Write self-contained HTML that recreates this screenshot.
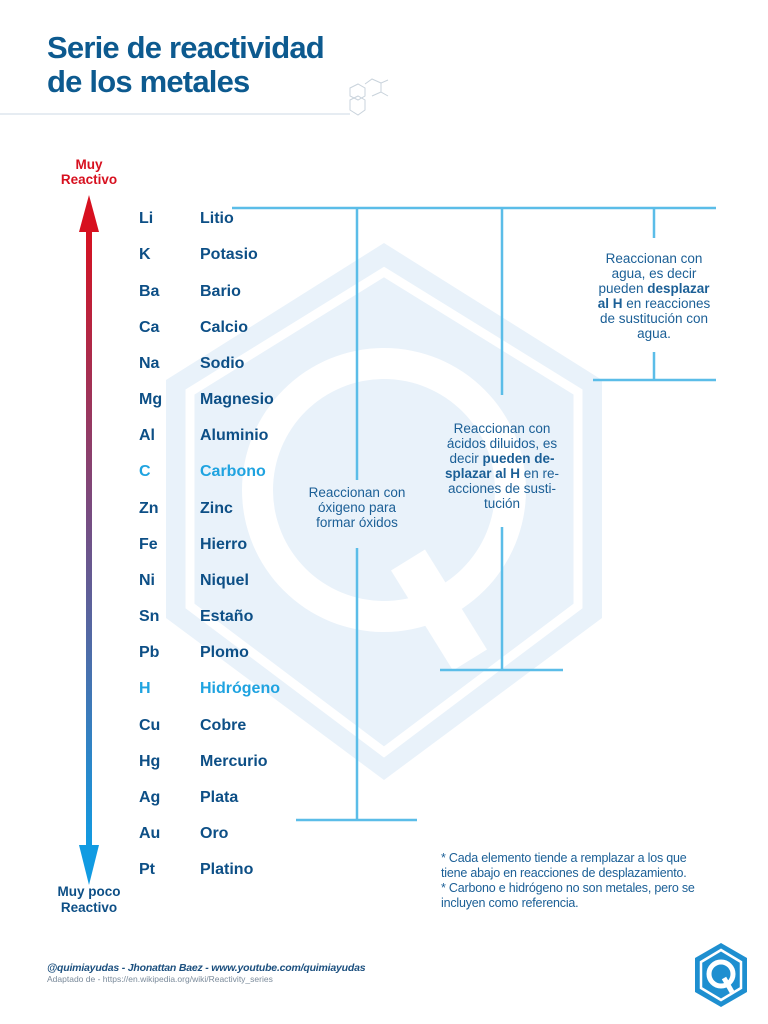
<!DOCTYPE html>
<html><head><meta charset="utf-8"><style>
body{margin:0;width:768px;height:1024px;background:#fff;position:relative;overflow:hidden;font-family:"Liberation Sans Narrow","Liberation Sans",sans-serif}
.t{position:absolute;white-space:nowrap}
h1{position:absolute;left:47px;top:31px;margin:0;font:bold 31px/34px "Liberation Sans",sans-serif;color:#0d5a8f;letter-spacing:-0.8px}
.row{position:absolute;font-weight:bold;font-size:16px;color:#0d4f86}
.sym{left:139px}.nm{left:200px}
.hl{color:#1fa3e0}
.box{position:absolute;text-align:center;font-family:"Liberation Sans",sans-serif;font-size:13.5px;line-height:15px;color:#1b5f96}
.note{position:absolute;left:441px;top:851px;font-size:12.5px;line-height:15px;color:#1b5f96;letter-spacing:-0.2px}
</style></head><body>
<svg width="768" height="1024" style="position:absolute;left:0;top:0">
<defs><linearGradient id="g" x1="0" y1="0" x2="0" y2="1"><stop offset="0" stop-color="#d7101f"/><stop offset="0.45" stop-color="#7a4a7e"/><stop offset="1" stop-color="#119be2"/></linearGradient></defs>
<polygon points="384,243 602,380 602,618 384,780 166,618 166,380" fill="#e9f2fa"/>
<polygon points="384,272 578,392 578,606 384,752 190,606 190,392" fill="none" stroke="#fff" stroke-width="9"/>
<circle cx="384" cy="490" r="142" fill="#fff"/>
<circle cx="384" cy="490" r="111" fill="#e9f2fa"/>
<line x1="408" y1="560" x2="470" y2="660" stroke="#fff" stroke-width="40"/>
<line x1="0" y1="114" x2="350" y2="114" stroke="#dde6ee" stroke-width="1.5"/>
<g fill="none" stroke="#c9d3dc" stroke-width="1"><polygon points="360,88 368,84 375,88 375,96 368,100 360,96" transform="translate(-10,0)"/><polygon points="358,100 366,96 373,100 373,110 366,115 358,110" transform="translate(-8,0)"/><path d="M365 84 L372 79 L381 83 L381 92 L372 96 M381 83 L388 80 M381 92 L388 96"/></g>
<rect x="86" y="228" width="6" height="620" fill="url(#g)"/>
<polygon points="89,195 79,232 99,232" fill="#d7101f"/>
<polygon points="89,885 79,845 99,845" fill="#119be2"/>
<g stroke="#5bbde8" stroke-width="2.5" fill="none">
<line x1="232" y1="208" x2="716" y2="208"/>
<line x1="357" y1="208" x2="357" y2="480"/><line x1="357" y1="548" x2="357" y2="820"/><line x1="296" y1="820" x2="417" y2="820"/>
<line x1="502" y1="208" x2="502" y2="395"/><line x1="502" y1="527" x2="502" y2="670"/><line x1="440" y1="670" x2="563" y2="670"/>
<line x1="654" y1="208" x2="654" y2="238"/><line x1="654" y1="352" x2="654" y2="380"/><line x1="593" y1="380" x2="716" y2="380"/>
</g>
<polygon points="721,943 747,958 747,992 721,1007 695,992 695,958" fill="#1e8fd0"/>
<polygon points="721,950 741,962 741,988 721,1000 701,988 701,962" fill="none" stroke="#fff" stroke-width="2.5"/>
<circle cx="721" cy="974" r="12" fill="none" stroke="#fff" stroke-width="5"/>
<line x1="724" y1="978" x2="732" y2="992" stroke="#fff" stroke-width="5"/>
</svg>
<h1>Serie de reactividad<br>de los metales</h1>
<div class="t" style="left:60px;top:157px;width:58px;text-align:center;color:#d7101f;font-weight:bold;font-size:13.5px;line-height:15px">Muy<br>Reactivo</div>
<div class="t" style="left:50px;top:884px;width:78px;text-align:center;color:#0d4f86;font-weight:bold;font-size:13.5px;line-height:16px">Muy poco<br>Reactivo</div>
<div class="row sym" style="top:210px">Li</div><div class="row nm" style="top:210px">Litio</div>
<div class="row sym" style="top:246px">K</div><div class="row nm" style="top:246px">Potasio</div>
<div class="row sym" style="top:283px">Ba</div><div class="row nm" style="top:283px">Bario</div>
<div class="row sym" style="top:319px">Ca</div><div class="row nm" style="top:319px">Calcio</div>
<div class="row sym" style="top:355px">Na</div><div class="row nm" style="top:355px">Sodio</div>
<div class="row sym" style="top:391px">Mg</div><div class="row nm" style="top:391px">Magnesio</div>
<div class="row sym" style="top:427px">Al</div><div class="row nm" style="top:427px">Aluminio</div>
<div class="row sym hl" style="top:463px">C</div><div class="row nm hl" style="top:463px">Carbono</div>
<div class="row sym" style="top:500px">Zn</div><div class="row nm" style="top:500px">Zinc</div>
<div class="row sym" style="top:536px">Fe</div><div class="row nm" style="top:536px">Hierro</div>
<div class="row sym" style="top:572px">Ni</div><div class="row nm" style="top:572px">Niquel</div>
<div class="row sym" style="top:608px">Sn</div><div class="row nm" style="top:608px">Estaño</div>
<div class="row sym" style="top:644px">Pb</div><div class="row nm" style="top:644px">Plomo</div>
<div class="row sym hl" style="top:680px">H</div><div class="row nm hl" style="top:680px">Hidrógeno</div>
<div class="row sym" style="top:717px">Cu</div><div class="row nm" style="top:717px">Cobre</div>
<div class="row sym" style="top:753px">Hg</div><div class="row nm" style="top:753px">Mercurio</div>
<div class="row sym" style="top:789px">Ag</div><div class="row nm" style="top:789px">Plata</div>
<div class="row sym" style="top:825px">Au</div><div class="row nm" style="top:825px">Oro</div>
<div class="row sym" style="top:861px">Pt</div><div class="row nm" style="top:861px">Platino</div>
<div class="box" style="left:292px;top:485px;width:130px">Reaccionan con<br>óxigeno para<br>formar óxidos</div>
<div class="box" style="left:437px;top:421px;width:130px">Reaccionan con<br>ácidos diluidos, es<br>decir <b>pueden de-<br>splazar al H</b> en re-<br>acciones de susti-<br>tución</div>
<div class="box" style="left:589px;top:251px;width:130px">Reaccionan con<br>agua, es decir<br>pueden <b>desplazar<br>al H</b> en reacciones<br>de sustitución con<br>agua.</div>
<div class="note">* Cada elemento tiende a remplazar a los que<br>tiene abajo en reacciones de desplazamiento.<br>* Carbono e hidrógeno no son metales, pero se<br>incluyen como referencia.</div>
<div class="t" style="left:47px;top:962px;font-size:10.5px;font-style:italic;font-weight:bold;color:#1b4f7e;letter-spacing:-0.2px">@quimiayudas - Jhonattan Baez - www.youtube.com/quimiayudas</div>
<div class="t" style="left:47px;top:974px;font-size:8.5px;color:#7a8a9a">Adaptado de - https://en.wikipedia.org/wiki/Reactivity_series</div>
</body></html>
